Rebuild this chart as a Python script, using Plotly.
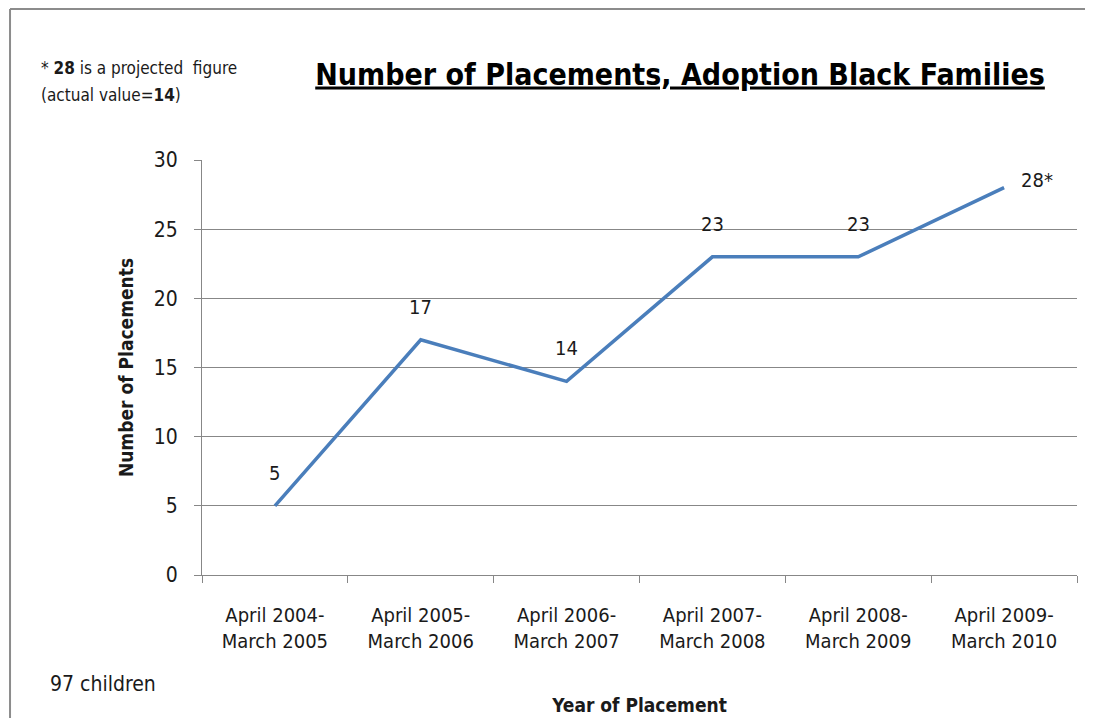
import plotly.graph_objects as go

periods = [
    "April 2004-<br>March 2005",
    "April 2005-<br>March 2006",
    "April 2006-<br>March 2007",
    "April 2007-<br>March 2008",
    "April 2008-<br>March 2009",
    "April 2009-<br>March 2010",
]
placements = [5, 17, 14, 23, 23, 28]
point_labels = ["5", "17", "14", "23", "23", "28*"]

FONT = "DejaVu Sans Condensed, Lato, sans-serif"
TXT = "#1a1a1a"
GRID = "#878787"

fig = go.Figure()
fig.add_trace(go.Scatter(
    x=periods, y=placements, mode="lines",
    line=dict(color="#4A7EBB", width=3.5),
    hoverinfo="x+y", showlegend=False,
))

# data labels above each point (last one sits to the right, as in Excel)
for i, (p, v, t) in enumerate(zip(periods, placements, point_labels)):
    last = i == len(periods) - 1
    fig.add_annotation(
        x=p, y=v, text=t, showarrow=False,
        xshift=33 if last else 0, yshift=8 if last else 33,
        font=dict(family=FONT, size=20, color=TXT),
    )

# notes
note_font = dict(family=FONT, size=17, color=TXT)
fig.add_annotation(
    xref="paper", yref="paper", x=-0.1863, y=1.2217, xanchor="left", yanchor="middle",
    text="* <b>28</b> is a projected  figure", showarrow=False, font=note_font,
)
fig.add_annotation(
    xref="paper", yref="paper", x=-0.1863, y=1.1566, xanchor="left", yanchor="middle",
    text="(actual value=<b>14</b>)", showarrow=False, font=note_font,
)
fig.add_annotation(
    xref="paper", yref="paper", x=-0.176, y=-0.2627, xanchor="left", yanchor="middle",
    text="97 children", showarrow=False, font=dict(family=FONT, size=21, color=TXT),
)

# outer frame (top and left edges)
fig.add_shape(type="line", xref="paper", yref="paper",
              x0=-0.2194, x1=1.02, y0=1.3639, y1=1.3639,
              line=dict(color="#8c8c8c", width=2))
fig.add_shape(type="line", xref="paper", yref="paper",
              x0=-0.2194, x1=-0.2194, y0=1.3639, y1=-0.35,
              line=dict(color="#8c8c8c", width=2))

fig.update_layout(
    width=1085, height=710,
    margin=dict(l=194, r=16, t=152, b=143),
    paper_bgcolor="white", plot_bgcolor="white",
    title=dict(
        text="<b><u>Number of Placements, Adoption Black Families</u></b>",
        x=0.6194, xanchor="center", y=0.907, yanchor="middle",
        font=dict(family=FONT, size=30, color="black"),
    ),
    xaxis=dict(
        type="category", tickson="boundaries", range=[-0.5, 5.5],
        automargin=False,
        showgrid=False, showline=True, linecolor=GRID, linewidth=1,
        ticks="outside", ticklen=7, tickcolor=GRID,
        ticklabelstandoff=22,
        tickfont=dict(family=FONT, size=20, color=TXT),
        title=dict(text="<b>Year of Placement</b>", standoff=46,
                   font=dict(family=FONT, size=19, color=TXT)),
    ),
    yaxis=dict(
        range=[0, 30], dtick=5, automargin=False,
        showgrid=True, gridcolor=GRID, gridwidth=1,
        showline=True, linecolor=GRID, linewidth=1,
        ticks="outside", ticklen=7, tickcolor=GRID,
        ticklabelstandoff=12,
        tickfont=dict(family=FONT, size=21, color=TXT),
        title=dict(text="<b>Number of Placements</b>", standoff=15,
                   font=dict(family=FONT, size=19, color=TXT)),
        zeroline=False,
    ),
)

fig.write_html("out.html")
